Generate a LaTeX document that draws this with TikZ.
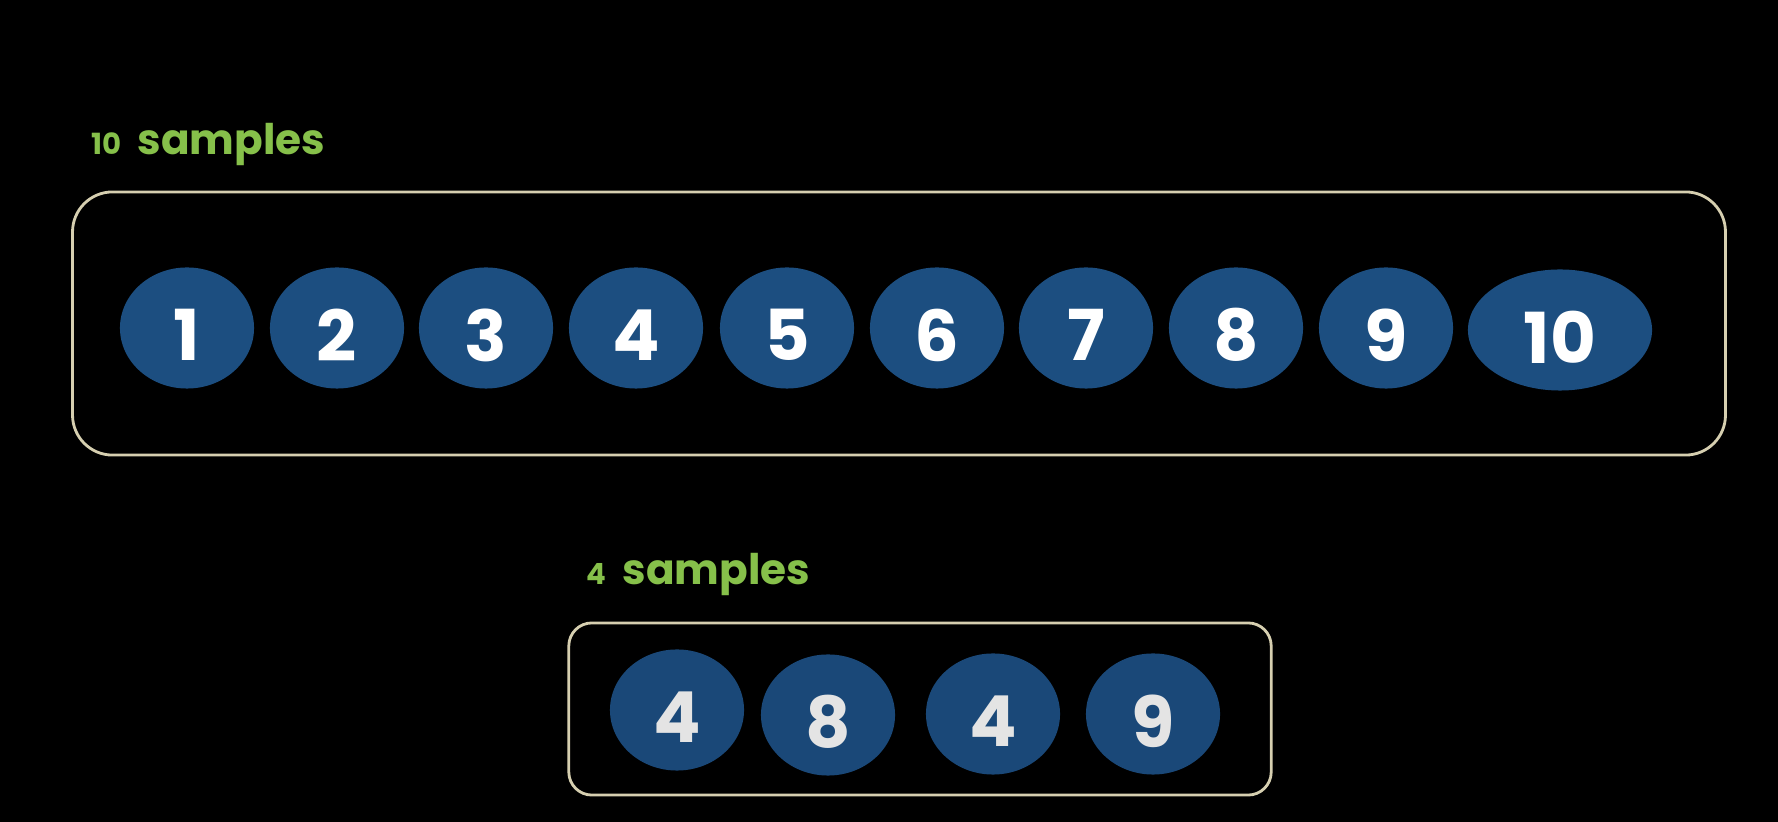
\documentclass[tikz,border=0pt]{standalone}
\usepackage{fontspec}
\setmainfont{Poppins}
\usetikzlibrary{shapes.geometric}
\definecolor{ballblue}{HTML}{1C4E80}
\definecolor{ballblue2}{HTML}{1A4878}
\definecolor{labgreen}{HTML}{86C04A}
\definecolor{boxline}{HTML}{D6CFB0}
\definecolor{digitgray}{HTML}{E4E4E4}
\tikzset{
  ball/.style={ellipse, fill=ballblue, draw=none, inner sep=0pt,
    minimum width=1.34cm, minimum height=1.21cm},
  num/.style={text=white, font=\bfseries\fontsize{20}{22}\selectfont, inner sep=0pt},
  grpbox/.style={draw=boxline, line width=0.8pt},
  samplelab/.style={text=labgreen, anchor=base west, inner sep=0pt, font=\bfseries}
}
\begin{document}
\begin{tikzpicture}[x=0.01cm, y=-0.01cm]
\fill[black] (0,0) rectangle (1778,822);
\useasboundingbox (0,0) rectangle (1778,822);
% labels
\node[samplelab] (lab10) at (91,155) {{\fontsize{8.3}{10}\selectfont 10}\hspace{0.16cm}{\fontsize{12}{15}\selectfont samples}};
\node[samplelab] (lab4) at (586,585) {{\fontsize{8.3}{10}\selectfont 4}\hspace{0.16cm}{\fontsize{12}{15}\selectfont samples}};
% boxes
\node[grpbox, rounded corners=0.4cm, minimum width=16.52cm, minimum height=2.63cm, inner sep=0pt] (bigbox) at (899,323.5) {};
\node[grpbox, rounded corners=0.23cm, minimum width=7.02cm, minimum height=1.72cm, inner sep=0pt] (smallbox) at (920,709) {};
% top row
\foreach \i/\x in {1/187,2/337,3/486,4/636,5/787,6/937,7/1086,8/1236,9/1386}{
  \node[ball] (t\i) at (\x,328) {};
  \node[num] (tn\i) at (\x,335) {\i};
}
\node[ball, minimum width=1.84cm] (t10) at (1560,330) {};
\node[num] (tn10) at (1560,337) {10};
% bottom row
\foreach \j/\x/\y/\d in {1/677/710/4,2/828/715/8,3/993/714/4,4/1153/714/9}{
  \node[ball, fill=ballblue2] (b\j) at (\x,\y) {};
  \node[num, text=digitgray] (bn\j) at (\x,\y+7) {\d};
}
\end{tikzpicture}
\end{document}
